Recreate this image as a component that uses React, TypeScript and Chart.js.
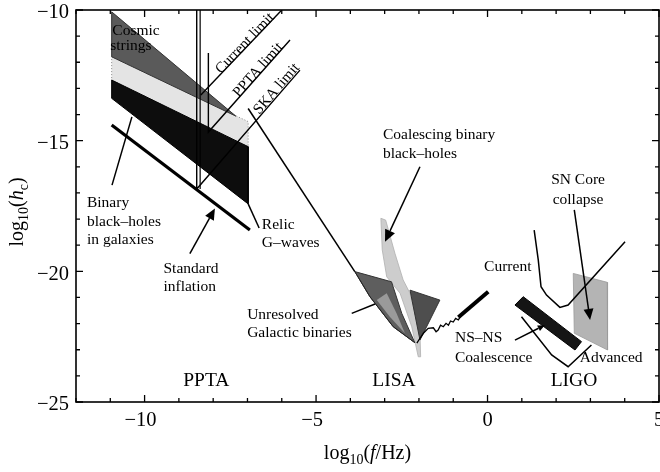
import React, { useEffect, useRef } from 'react';
import { Chart, registerables } from 'chart.js';

Chart.register(...registerables);

type Pt = [number, number];

// ---------- axes ----------
const X_RANGE: Pt = [-12, 5];
const Y_RANGE: Pt = [-25, -10];
const xMajorTicks = [-10, -5, 0, 5];
const xMinorTicks = [-12, -11, -10, -9, -8, -7, -6, -5, -4, -3, -2, -1, 0, 1, 2, 3, 4, 5];
const yMajorTicks = [-10, -15, -20, -25];
const yMinorTicks = [-10, -11, -12, -13, -14, -15, -16, -17, -18, -19, -20, -21, -22, -23, -24, -25];

// ---------- pulsar timing band ----------
const gapBand: Pt[] = [[-10.96, -11.79], [-6.98, -14.27], [-6.98, -15.23], [-10.96, -12.68]];
const cosmicStrings: Pt[] = [[-10.96, -10.07], [-7.34, -14.06], [-10.96, -11.79]];
const binaryBlackHoles: Pt[] = [[-10.96, -12.68], [-6.98, -15.23], [-6.98, -17.42], [-10.96, -13.38]];
const standardInflation: Pt[] = [[-10.96, -14.4], [-6.93, -18.42]];
const currentWall: Pt[] = [[-8.38, -10], [-8.38, -16.85]];
const currentSlope: Pt[] = [[-8.36, -13.25], [-6.0, -10]];
const pptaLimit: Pt[] = [[-8.14, -11.65], [-8.14, -14.67], [-5.76, -11.15]];
const skaLimit: Pt[] = [[-8.48, -10], [-8.48, -16.85], [-5.47, -12.3]];

// ---------- LISA band ----------
const lisaSlope: Pt[] = [[-6.98, -13.77], [-3.87, -20.01]];
const lisaBottom: Pt[] = [[-3.87, -20.01], [-3.43, -20.97], [-2.75, -22.12], [-2.12, -22.73]];
const lisaWiggle: Pt[] = [
  [-2.06, -22.75], [-1.99, -22.6], [-1.87, -22.37], [-1.73, -22.18], [-1.58, -22.16], [-1.5, -22.31],
  [-1.44, -22.25], [-1.37, -22.06], [-1.29, -22.12], [-1.21, -21.99], [-1.14, -22.06], [-1.08, -21.9],
  [-1.0, -21.94], [-0.93, -21.8], [-0.85, -21.86], [-0.78, -21.71],
];
const lisaHighFreq: Pt[] = [[-0.85, -21.76], [0.02, -20.78]];
const galacticBinaries: Pt[] = [[-3.87, -20.01], [-2.8, -20.4], [-2.5, -21.61], [-2.12, -22.73], [-2.75, -22.12], [-3.43, -20.97]];
const galacticCore: Pt[] = [[-3.23, -21.1], [-2.94, -20.84], [-2.65, -21.61], [-2.41, -22.37], [-2.85, -21.74]];
const galacticRight: Pt[] = [[-2.26, -20.72], [-1.39, -21.1], [-1.97, -22.63]];
const coalescingBH: Pt[] = [
  [-3.11, -17.97], [-3.07, -19.18], [-2.94, -20.21], [-2.55, -20.84], [-2.21, -22.12], [-2.02, -23.27],
  [-1.95, -23.27], [-1.97, -22.37], [-2.26, -20.84], [-2.46, -20.33], [-2.7, -19.31], [-2.97, -18.04],
];

// ---------- LIGO band ----------
const ligoCurrent: Pt[] = [[1.36, -18.42], [1.48, -19.57], [1.56, -20.59], [1.72, -20.91], [2.11, -21.38], [2.35, -21.29], [4.01, -18.87]];
const ligoAdvanced: Pt[] = [[0.99, -21.74], [1.87, -23.2], [2.35, -23.65], [3.03, -22.82]];
const nsnsBand: Pt[] = [[0.8, -21.29], [1.04, -20.97], [2.74, -22.69], [2.55, -23.01]];
const snCore: Pt[] = [[2.5, -20.08], [3.49, -20.42], [3.5, -23.01], [2.53, -22.37]];

// ---------- annotations (data coordinates) ----------
const pointerLines: [Pt, Pt][] = [
  [[-10.95, -16.7], [-10.37, -14.09]],
  [[-6.98, -17.42], [-6.66, -18.34]],
  [[-3.96, -21.61], [-3.28, -21.25]],
];
const arrows: { from: Pt; to: Pt; head: number }[] = [
  { from: [-8.68, -19.32], to: [-7.95, -17.6], head: 11 },
  { from: [-1.97, -16.0], to: [-2.99, -18.87], head: 12 },
  { from: [2.53, -17.65], to: [2.99, -21.86], head: 11 },
  { from: [0.8, -22.63], to: [1.67, -22.06], head: 7 },
];
const textLabels: { text: string; x: number; y: number; align: CanvasTextAlign }[] = [
  { text: 'Cosmic', x: -10.25, y: -10.8, align: 'center' },
  { text: 'strings', x: -10.4, y: -11.38, align: 'center' },
  { text: 'Binary', x: -11.68, y: -17.39, align: 'left' },
  { text: 'black–holes', x: -11.68, y: -18.11, align: 'left' },
  { text: 'in galaxies', x: -11.68, y: -18.8, align: 'left' },
  { text: 'Standard', x: -9.45, y: -19.89, align: 'left' },
  { text: 'inflation', x: -9.45, y: -20.59, align: 'left' },
  { text: 'Relic', x: -6.58, y: -18.23, align: 'left' },
  { text: 'G–waves', x: -6.58, y: -18.93, align: 'left' },
  { text: 'Coalescing binary', x: -3.05, y: -14.78, align: 'left' },
  { text: 'black–holes', x: -3.05, y: -15.49, align: 'left' },
  { text: 'Unresolved', x: -7.01, y: -21.67, align: 'left' },
  { text: 'Galactic binaries', x: -7.01, y: -22.37, align: 'left' },
  { text: 'SN Core', x: 2.64, y: -16.51, align: 'center' },
  { text: 'collapse', x: 2.64, y: -17.27, align: 'center' },
  { text: 'Current', x: -0.1, y: -19.82, align: 'left' },
  { text: 'NS–NS', x: -0.95, y: -22.56, align: 'left' },
  { text: 'Coalescence', x: -0.95, y: -23.33, align: 'left' },
  { text: 'Advanced', x: 2.69, y: -23.33, align: 'left' },
];
const regionLabels: { text: string; x: number; y: number }[] = [
  { text: 'PPTA', x: -8.2, y: -24.2 },
  { text: 'LISA', x: -2.73, y: -24.2 },
  { text: 'LIGO', x: 2.52, y: -24.2 },
];
const limitLabels: { text: string; at: Pt; line: Pt[] }[] = [
  { text: 'Current limit', at: [-7.07, -11.28], line: currentSlope },
  { text: 'PPTA limit', at: [-6.69, -12.3], line: pptaLimit },
  { text: 'SKA limit', at: [-6.15, -13.02], line: skaLimit },
];

const SERIF = '"Liberation Serif", "Times New Roman", serif';

const toXY = (pts: Pt[]) => pts.map(([x, y]) => ({ x, y }));
const closed = (pts: Pt[]) => toXY([...pts, pts[0]]);

type Layer = { data: { x: number; y: number }[]; fillColor?: string; line?: string; width?: number; dash?: number[] };

const layers: Layer[] = [
  { data: closed(gapBand), fillColor: '#e4e4e4', line: '#8a8a8a', width: 1, dash: [1, 2] },
  { data: closed(cosmicStrings), fillColor: '#5a5a5a', line: '#333', width: 1 },
  { data: closed(binaryBlackHoles), fillColor: '#0d0d0d', line: '#000', width: 1 },
  { data: closed(coalescingBH), fillColor: '#cdcdcd', line: '#b0b0b0', width: 0.8 },
  { data: closed(galacticBinaries), fillColor: '#5e5e5e', line: '#333', width: 1 },
  { data: closed(galacticCore), fillColor: '#9a9a9a', line: '#9a9a9a', width: 0 },
  { data: closed(galacticRight), fillColor: '#4e4e4e', line: '#333', width: 1 },
  { data: closed(snCore), fillColor: '#b4b4b4', line: '#9a9a9a', width: 0.8 },
  { data: toXY(ligoAdvanced), line: '#000', width: 1.5 },
  { data: closed(nsnsBand), fillColor: '#151515', line: '#000', width: 1 },
  { data: toXY(standardInflation), line: '#000', width: 3.2 },
  { data: toXY(currentWall), line: '#000', width: 1.2 },
  { data: toXY(currentSlope), line: '#000', width: 1.4 },
  { data: toXY(pptaLimit), line: '#000', width: 1.4 },
  { data: toXY(skaLimit), line: '#000', width: 1.4 },
  { data: toXY(lisaSlope), line: '#000', width: 1.5 },
  { data: toXY(lisaBottom), line: '#222', width: 1 },
  { data: toXY(lisaWiggle), line: '#000', width: 1.3 },
  { data: toXY(lisaHighFreq), line: '#000', width: 4 },
  { data: toXY(ligoCurrent), line: '#000', width: 1.5 },
];

function richText(ctx: CanvasRenderingContext2D, parts: { t: string; size: number; italic?: boolean; dy?: number }[], cx: number, baseY: number) {
  let total = 0;
  for (const p of parts) {
    ctx.font = `${p.italic ? 'italic ' : ''}${p.size}px ${SERIF}`;
    total += ctx.measureText(p.t).width;
  }
  let x = cx - total / 2;
  ctx.textAlign = 'left';
  ctx.textBaseline = 'alphabetic';
  for (const p of parts) {
    ctx.font = `${p.italic ? 'italic ' : ''}${p.size}px ${SERIF}`;
    ctx.fillText(p.t, x, baseY + (p.dy || 0));
    x += ctx.measureText(p.t).width;
  }
}

const gwPlugin = {
  id: 'gwDecor',
  afterDatasetsDraw(chart: any) {
    const ctx: CanvasRenderingContext2D = chart.ctx;
    const sx = chart.scales.x;
    const sy = chart.scales.y;
    const P = (p: Pt): Pt => [sx.getPixelForValue(p[0]), sy.getPixelForValue(p[1])];
    ctx.save();
    ctx.strokeStyle = '#000';
    ctx.fillStyle = '#000';
    ctx.lineWidth = 1.5;
    ctx.lineCap = 'butt';
    for (const [a, b] of pointerLines) {
      const [x1, y1] = P(a);
      const [x2, y2] = P(b);
      ctx.beginPath();
      ctx.moveTo(x1, y1);
      ctx.lineTo(x2, y2);
      ctx.stroke();
    }
    for (const ar of arrows) {
      const [x1, y1] = P(ar.from);
      const [x2, y2] = P(ar.to);
      const ang = Math.atan2(y2 - y1, x2 - x1);
      const h = ar.head;
      const bx = x2 - h * Math.cos(ang);
      const by = y2 - h * Math.sin(ang);
      ctx.beginPath();
      ctx.moveTo(x1, y1);
      ctx.lineTo(bx, by);
      ctx.stroke();
      const w = h * 0.45;
      ctx.beginPath();
      ctx.moveTo(x2, y2);
      ctx.lineTo(bx + w * Math.sin(ang), by - w * Math.cos(ang));
      ctx.lineTo(bx - w * Math.sin(ang), by + w * Math.cos(ang));
      ctx.closePath();
      ctx.fill();
    }
    ctx.textBaseline = 'middle';
    ctx.font = `15.5px ${SERIF}`;
    for (const t of textLabels) {
      const [x, y] = P([t.x, t.y]);
      ctx.textAlign = t.align;
      ctx.fillText(t.text, x, y);
    }
    ctx.font = `19.5px ${SERIF}`;
    ctx.textAlign = 'center';
    for (const t of regionLabels) {
      const [x, y] = P([t.x, t.y]);
      ctx.fillText(t.text, x, y);
    }
    ctx.font = `15px ${SERIF}`;
    for (const l of limitLabels) {
      const a = P(l.line[l.line.length - 2]);
      const b = P(l.line[l.line.length - 1]);
      const ang = Math.atan2(b[1] - a[1], b[0] - a[0]);
      const [x, y] = P(l.at);
      ctx.save();
      ctx.translate(x, y);
      ctx.rotate(ang);
      ctx.fillText(l.text, 0, 0);
      ctx.restore();
    }
    ctx.restore();
  },
  afterDraw(chart: any) {
    const ctx: CanvasRenderingContext2D = chart.ctx;
    const sx = chart.scales.x;
    const sy = chart.scales.y;
    const { left, right, top, bottom } = chart.chartArea;
    ctx.save();
    ctx.strokeStyle = '#000';
    ctx.lineWidth = 1.6;
    ctx.strokeRect(left, top, right - left, bottom - top);
    ctx.lineWidth = 1.3;
    ctx.beginPath();
    for (const v of xMinorTicks) {
      const x = sx.getPixelForValue(v);
      const len = xMajorTicks.includes(v) ? 7 : 4;
      ctx.moveTo(x, bottom);
      ctx.lineTo(x, bottom - len);
      ctx.moveTo(x, top);
      ctx.lineTo(x, top + len);
    }
    for (const v of yMinorTicks) {
      const y = sy.getPixelForValue(v);
      const len = yMajorTicks.includes(v) ? 7 : 4;
      ctx.moveTo(left, y);
      ctx.lineTo(left + len, y);
      ctx.moveTo(right, y);
      ctx.lineTo(right - len, y);
    }
    ctx.stroke();
    const fmt = (v: number) => (v < 0 ? '−' + Math.abs(v) : String(v));
    ctx.fillStyle = '#000';
    ctx.font = `20.5px ${SERIF}`;
    ctx.textAlign = 'center';
    ctx.textBaseline = 'middle';
    for (const v of xMajorTicks) {
      ctx.fillText(fmt(v), sx.getPixelForValue(v) - (v < 0 ? 4 : 0), bottom + 19);
    }
    ctx.textAlign = 'right';
    for (const v of yMajorTicks) {
      ctx.fillText(fmt(v), left - 7, sy.getPixelForValue(v) + 3);
    }
    // x title
    richText(ctx, [
      { t: 'log', size: 20 },
      { t: '10', size: 14, dy: 5 },
      { t: '(', size: 20 },
      { t: 'f', size: 20, italic: true },
      { t: '/Hz)', size: 20 },
    ], (left + right) / 2, 459);
    // y title
    ctx.save();
    ctx.translate(23, (top + bottom) / 2 + 6);
    ctx.rotate(-Math.PI / 2);
    richText(ctx, [
      { t: 'log', size: 20 },
      { t: '10', size: 14, dy: 5 },
      { t: '(', size: 20 },
      { t: 'h', size: 20, italic: true },
      { t: 'c', size: 14, dy: 5 },
      { t: ')', size: 20 },
    ], 0, 0);
    ctx.restore();
    ctx.restore();
  },
};

export default function App() {
  const ref = useRef<HTMLCanvasElement | null>(null);
  useEffect(() => {
    if (!ref.current) return;
    const n = layers.length;
    const datasets = layers.map((l, i) => ({
      data: l.data,
      borderColor: l.line || 'transparent',
      borderWidth: l.width ?? 1,
      borderDash: l.dash || [],
      backgroundColor: l.fillColor || 'transparent',
      fill: l.fillColor ? 'shape' : false,
      pointRadius: 0,
      pointHoverRadius: 0,
      tension: 0,
      order: n - i,
    }));
    const chart = new Chart(ref.current, {
      type: 'line',
      data: { datasets: datasets as any },
      options: {
        responsive: false,
        maintainAspectRatio: false,
        devicePixelRatio: 1,
        animation: false,
        events: [],
        layout: { padding: { left: 76, right: 1, top: 10, bottom: 70 } },
        scales: {
          x: { type: 'linear', min: X_RANGE[0], max: X_RANGE[1], display: false },
          y: { type: 'linear', min: Y_RANGE[0], max: Y_RANGE[1], display: false },
        },
        plugins: {
          legend: { display: false },
          tooltip: { enabled: false },
          filler: { propagate: false },
        },
      },
      plugins: [gwPlugin],
    });
    return () => chart.destroy();
  }, []);
  return (
    <div style={{ position: 'absolute', left: 0, top: 0, width: 660, height: 472, background: '#fff' }}>
      <canvas ref={ref} width={660} height={472} style={{ display: 'block', width: 660, height: 472 }} />
    </div>
  );
}
